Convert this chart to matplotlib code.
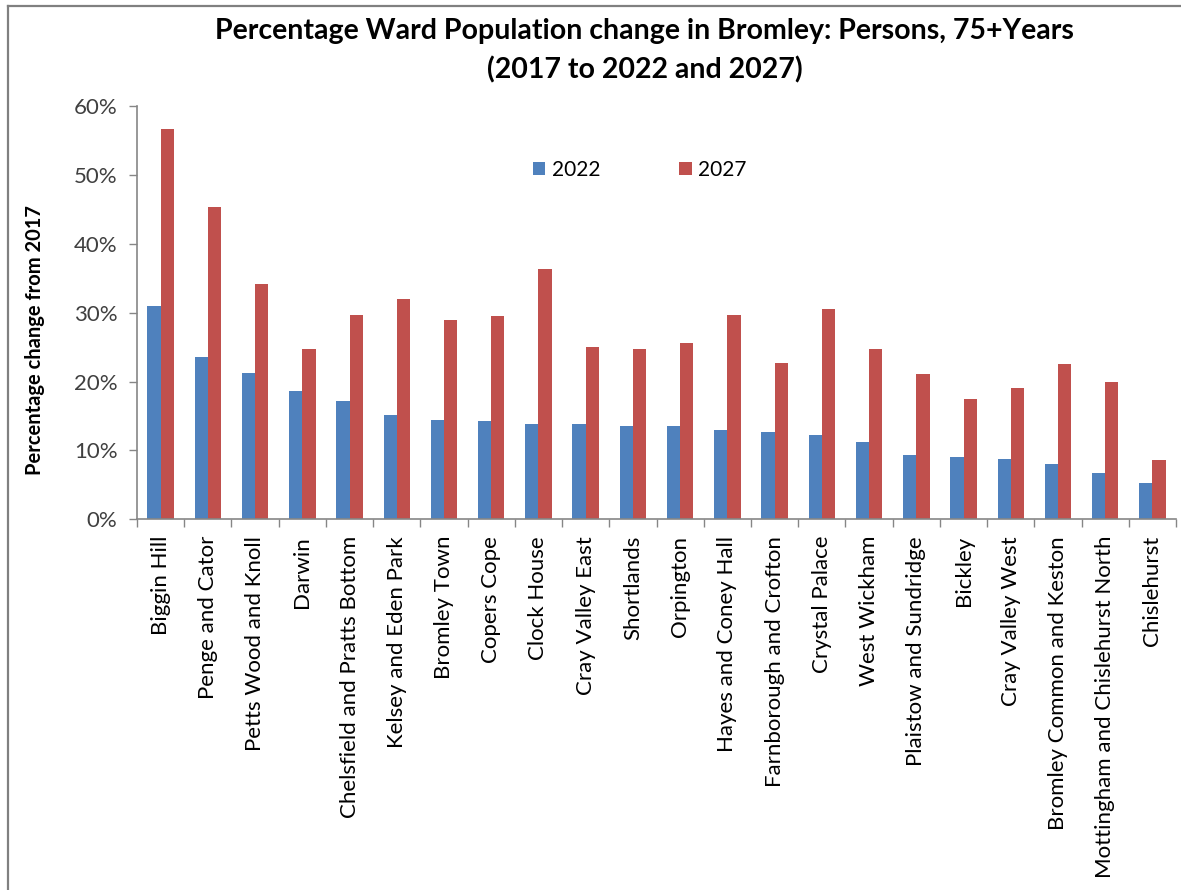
#!/usr/bin/env python3

# Percentage ward population change in Bromley, persons 75+,
# grouped bars for 2022 and 2027 against 2017.

import numpy as np
import matplotlib as mpl
import matplotlib.pyplot as plt
from matplotlib.ticker import FixedLocator, PercentFormatter

mpl.rcParams['font.family'] = ['Lato', 'DejaVu Sans']

wards = ["Biggin Hill", "Penge and Cator", "Petts Wood and Knoll", "Darwin",
         "Chelsfield and Pratts Bottom", "Kelsey and Eden Park", "Bromley Town",
         "Copers Cope", "Clock House", "Cray Valley East", "Shortlands",
         "Orpington", "Hayes and Coney Hall", "Farnborough and Crofton",
         "Crystal Palace", "West Wickham", "Plaistow and Sundridge", "Bickley",
         "Cray Valley West", "Bromley Common and Keston",
         "Mottingham and Chislehurst North", "Chislehurst"]

# percent change from 2017
pct_2022 = [30.9, 23.6, 21.3, 18.6, 17.2, 15.2, 14.4, 14.2, 13.9, 13.9, 13.5,
            13.5, 12.9, 12.7, 12.3, 11.2, 9.3, 9.0, 8.7, 8.1, 6.7, 5.3]
pct_2027 = [56.6, 45.3, 34.2, 24.7, 29.7, 32.0, 28.9, 29.5, 36.4, 25.0, 24.7,
            25.6, 29.7, 22.7, 30.5, 24.7, 21.1, 17.4, 19.1, 22.5, 19.9, 8.6]

blue = '#4F81BD'
red = '#C0504D'
axis_grey = '#868686'

fig = plt.figure(figsize=(11.81, 8.90), dpi=100)
ax = fig.add_axes([0.116, 0.4165, 0.8798, 0.4645])

x = np.arange(len(wards))
w = 0.28
ax.bar(x - w/2, pct_2022, w, color=blue, label='2022')
ax.bar(x + w/2, pct_2027, w, color=red, label='2027')

ax.set_xlim(-0.5, len(wards) - 0.5)
ax.set_ylim(0, 60)
ax.set_yticks(np.arange(0, 61, 10))
ax.yaxis.set_major_formatter(PercentFormatter(decimals=0))

# category labels centred, ticks on the boundaries
ax.set_xticks(x)
ax.set_xticklabels(wards, rotation=90, fontsize=16, color='black')
ax.tick_params(axis='x', which='major', length=0, pad=12)
ax.xaxis.set_minor_locator(FixedLocator(np.arange(-0.5, len(wards), 1)))
ax.tick_params(axis='x', which='minor', length=6, color=axis_grey, width=1)
ax.tick_params(axis='y', length=6, color=axis_grey, width=1,
               labelsize=16, labelcolor='#404040', pad=8)

for s in ['top', 'right']:
    ax.spines[s].set_visible(False)
for s in ['left', 'bottom']:
    ax.spines[s].set_color(axis_grey)
    ax.spines[s].set_linewidth(1.2)

fig.text(0.030, 0.618, 'Percentage change from 2017', rotation=90,
         ha='center', va='center', fontsize=14.5, fontweight='bold')

fig.text(0.546, 0.965, 'Percentage Ward Population change in Bromley: Persons, 75+Years',
         ha='center', va='center', fontsize=20.5, fontweight='bold')
fig.text(0.546, 0.921, '(2017 to 2022 and 2027)',
         ha='center', va='center', fontsize=20.5, fontweight='bold')

ax.legend(loc='center left', bbox_to_anchor=(0.381, 0.845), ncol=2, frameon=False,
          fontsize=15, handlelength=0.6, handleheight=0.6,
          handletextpad=0.3, columnspacing=3.8, borderpad=0, borderaxespad=0)

# outer chart border (left and top visible)
fig.add_artist(plt.Line2D([0.0068, 0.0068], [0, 0.9935], color='#808080', lw=1.6))
fig.add_artist(plt.Line2D([0.0068, 1.0], [0.9935, 0.9935], color='#808080', lw=1.6))

fig.savefig('out.png', dpi=100)
